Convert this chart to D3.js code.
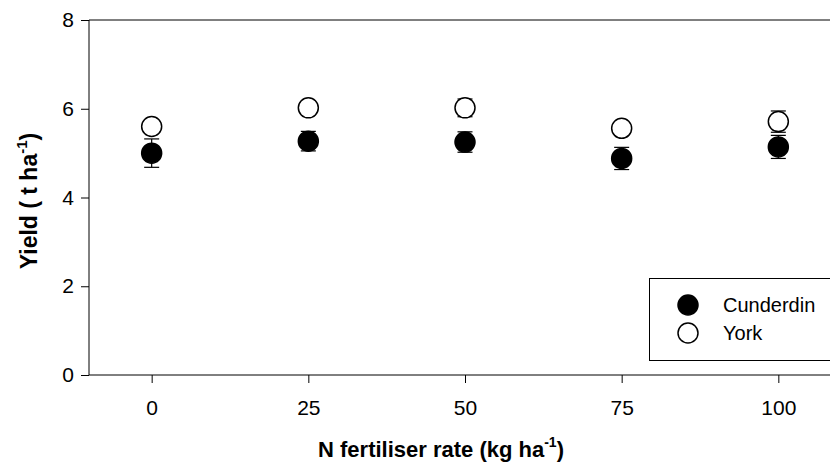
<!DOCTYPE html>
<html>
<head>
<meta charset="utf-8">
<script src="https://cdn.jsdelivr.net/npm/d3@7/dist/d3.min.js"></script>
<style>
  html, body { margin: 0; padding: 0; background: #fff; }
  svg { display: block; }
  text { font-family: Arial, "Liberation Sans", Helvetica, sans-serif; fill: #000; }
</style>
</head>
<body>
<svg id="chart" width="830" height="470"></svg>
<script>
// N fertiliser rates (kg ha-1)
const rates = [0, 25, 50, 75, 100];

// Mean grain yield (t ha-1) and standard errors per site
const cunderdinYield = [5.00, 5.27, 5.25, 4.88, 5.14];
const cunderdinErr   = [0.32, 0.22, 0.23, 0.25, 0.26];
const yorkYield      = [5.60, 6.02, 6.02, 5.56, 5.71];
const yorkErr        = [0.12, 0.15, 0.20, 0.10, 0.24];

const yTicks = [0, 2, 4, 6, 8];
const xTicks = [0, 25, 50, 75, 100];

const sites = [
  { name: "Cunderdin", fill: "#000", y: cunderdinYield, e: cunderdinErr },
  { name: "York", fill: "#fff", y: yorkYield, e: yorkErr }
];

const svg = d3.select("#chart");

const plotLeft = 89, plotTop = 20, plotBottom = 375, plotRight = 841;

const x = d3.scaleLinear().domain([-10, 110]).range([plotLeft, plotRight]);
const y = d3.scaleLinear().domain([0, 8]).range([plotBottom, plotTop]);

// Top frame line
svg.append("line")
  .attr("x1", plotLeft).attr("x2", plotRight)
  .attr("y1", plotTop).attr("y2", plotTop)
  .attr("stroke", "#000").attr("stroke-width", 1);

// Y axis
const yAxis = svg.append("g")
  .attr("transform", `translate(${plotLeft},0)`)
  .call(d3.axisLeft(y).tickValues(yTicks).tickFormat(d3.format("d")).tickSize(8).tickPadding(7));

// X axis
const xAxis = svg.append("g")
  .attr("transform", `translate(0,${plotBottom})`)
  .call(d3.axisBottom(x).tickValues(xTicks).tickFormat(d3.format("d")).tickSize(8).tickPadding(17));

[yAxis, xAxis].forEach(g => {
  g.select(".domain").attr("stroke", "#000").attr("stroke-width", 1)
    .attr("d", g === yAxis ? `M0,${plotTop}V${plotBottom}` : `M${plotLeft},0H${plotRight}`);
  g.selectAll(".tick line").attr("stroke", "#000").attr("stroke-width", 1);
  g.selectAll(".tick text")
    .style("font-family", "Arial, 'Liberation Sans', sans-serif")
    .style("font-size", "21px").attr("fill", "#000");
});

// Axis titles
const xTitle = svg.append("text")
  .attr("x", 441).attr("y", 457)
  .attr("text-anchor", "middle")
  .style("font-size", "22px").style("font-weight", "bold");
xTitle.append("tspan").text("N fertiliser rate (kg ha");
xTitle.append("tspan").attr("dy", -10).style("font-size", "14px").text("-1");
xTitle.append("tspan").attr("dy", 10).text(")");

const yTitle = svg.append("text")
  .attr("transform", "translate(37,201) rotate(-90)")
  .attr("text-anchor", "middle")
  .style("font-size", "23px").style("font-weight", "bold");
yTitle.append("tspan").text("Yield ( t ha");
yTitle.append("tspan").attr("dy", -10).style("font-size", "15px").text("-1");
yTitle.append("tspan").attr("dy", 10).text(")");

// Error bars and points
const capHalf = 7.5, r = 10;
sites.forEach(s => {
  const g = svg.append("g");
  const pts = rates.map((rate, i) => ({ rate, v: s.y[i], e: s.e[i] }));
  const eb = g.selectAll("g.eb").data(pts).enter().append("g").attr("class", "eb");
  eb.append("line")
    .attr("x1", d => x(d.rate)).attr("x2", d => x(d.rate))
    .attr("y1", d => y(d.v - d.e)).attr("y2", d => y(d.v + d.e))
    .attr("stroke", "#000").attr("stroke-width", 1.2);
  [1, -1].forEach(sign => {
    eb.append("line")
      .attr("x1", d => x(d.rate) - capHalf).attr("x2", d => x(d.rate) + capHalf)
      .attr("y1", d => y(d.v + sign * d.e)).attr("y2", d => y(d.v + sign * d.e))
      .attr("stroke", "#000").attr("stroke-width", 1.2);
  });
  g.selectAll("circle").data(pts).enter().append("circle")
    .attr("cx", d => x(d.rate)).attr("cy", d => y(d.v))
    .attr("r", r)
    .attr("fill", s.fill).attr("stroke", "#000").attr("stroke-width", 1.5);
});

// Legend
const legend = svg.append("g");
legend.append("rect")
  .attr("x", 649.5).attr("y", 278.5).attr("width", 200).attr("height", 82)
  .attr("fill", "#fff").attr("stroke", "#000").attr("stroke-width", 1);
sites.forEach((s, i) => {
  const cy = 305 + i * 28;
  legend.append("circle")
    .attr("cx", 688).attr("cy", cy).attr("r", r)
    .attr("fill", s.fill).attr("stroke", "#000").attr("stroke-width", 1.5);
  legend.append("text")
    .attr("x", 723).attr("y", cy + 7)
    .style("font-size", "20px").text(s.name);
});
</script>
</body>
</html>
